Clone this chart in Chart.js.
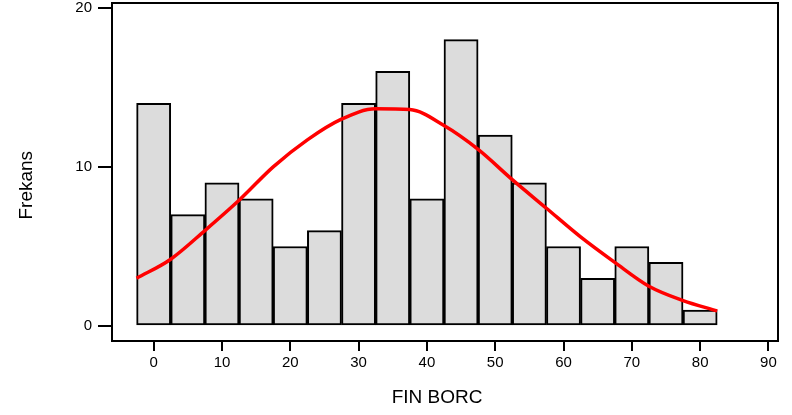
<!DOCTYPE html>
<html>
<head>
<meta charset="utf-8">
<script src="https://cdn.jsdelivr.net/npm/chart.js@4"></script>
<style>
  html, body { margin: 0; padding: 0; background: #fff; }
  #wrap { width: 792px; height: 415px; }
</style>
</head>
<body>
<div id="wrap"><canvas id="myChart"></canvas></div>
<script>
// histogram bins (centres) and counts
const binCenters = [0, 5, 10, 15, 20, 25, 30, 35, 40, 45, 50, 55, 60, 65, 70, 75, 80];
const counts = [14, 7, 9, 8, 5, 6, 14, 16, 8, 18, 12, 9, 5, 3, 5, 4, 1];

// fitted curve at the bin edges
const curveX = [-2.5, 2.5, 7.5, 12.5, 17.5, 22.5, 27.5, 32.5, 37.5, 42.5, 47.5, 52.5, 57.5, 62.5, 67.5, 72.5, 77.5, 82.5];
const curveY = [3.0, 4.2, 6.0, 7.9, 10.0, 11.7, 13.0, 13.65, 13.6, 12.6, 11.1, 9.2, 7.4, 5.6, 4.0, 2.5, 1.6, 0.95];

const xTicks = [0, 10, 20, 30, 40, 50, 60, 70, 80, 90];
const yTicks = [0, 10, 20];

const font = "'Liberation Sans', Arial, Helvetica, sans-serif";

// box around the plot area
const framePlugin = {
  id: "frame",
  afterDatasetsDraw(chart) {
    const { ctx, chartArea } = chart;
    ctx.save();
    ctx.strokeStyle = "#000";
    ctx.lineWidth = 2;
    ctx.strokeRect(chartArea.left, chartArea.top, chartArea.right - chartArea.left, chartArea.bottom - chartArea.top);
    ctx.restore();
  },
};

const ctx = document.getElementById("myChart").getContext("2d");

window.myChart = new Chart(ctx, {
  data: {
    datasets: [
      {
        type: "line",
        data: curveX.map((x, i) => ({ x: x, y: curveY[i] })),
        borderColor: "#ff0000",
        borderWidth: 3.5,
        pointRadius: 0,
        tension: 0.4,
        cubicInterpolationMode: "monotone",
        order: 1,
      },
      {
        type: "bar",
        data: binCenters.map((x, i) => ({ x: x, y: counts[i] })),
        backgroundColor: "#dcdcdc",
        borderColor: "#000",
        borderWidth: 2,
        borderSkipped: false,
        barPercentage: 1,
        categoryPercentage: 1,
        order: 2,
      },
    ],
  },
  options: {
    responsive: true,
    maintainAspectRatio: false,
    animation: false,
    layout: { padding: { top: 3, right: 14, left: 0, bottom: 0 } },
    plugins: {
      legend: { display: false },
      tooltip: { enabled: false },
    },
    scales: {
      x: {
        type: "linear",
        offset: false,
        min: -6.1,
        max: 91.4,
        afterBuildTicks: (scale) => {
          scale.ticks = xTicks.map((v) => ({ value: v }));
        },
        afterFit: (scale) => {
          scale.height = 74;
          scale.paddingLeft = 0;
          scale.paddingRight = 0;
        },
        grid: {
          offset: false,
          drawOnChartArea: false,
          drawTicks: true,
          tickLength: 10,
          color: "#000",
          lineWidth: 2,
        },
        border: { display: false },
        ticks: {
          color: "#000",
          font: { family: font, size: 15 },
          padding: 3,
          maxRotation: 0,
        },
        title: {
          display: true,
          // trailing spaces nudge the title left like the original
          text: "FIN BORC   ",
          color: "#000",
          font: { family: font, size: 19 },
          padding: { top: 0, bottom: 6 },
        },
      },
      y: {
        type: "linear",
        min: -0.94,
        max: 20.3,
        afterBuildTicks: (scale) => {
          scale.ticks = yTicks.map((v) => ({ value: v }));
        },
        afterFit: (scale) => {
          scale.width = 112;
          scale.paddingTop = 0;
          scale.paddingBottom = 0;
        },
        grid: {
          drawOnChartArea: false,
          drawTicks: true,
          tickLength: 14,
          color: "#000",
          lineWidth: 2,
        },
        border: { display: false },
        ticks: {
          color: "#000",
          font: { family: font, size: 15 },
          padding: 6,
        },
        title: {
          display: true,
          // trailing spaces push the rotated title down a bit
          text: "Frekans     ",
          color: "#000",
          font: { family: font, size: 19 },
          padding: { top: 15, bottom: 0 },
        },
      },
    },
  },
  plugins: [framePlugin],
});
</script>
</body>
</html>
